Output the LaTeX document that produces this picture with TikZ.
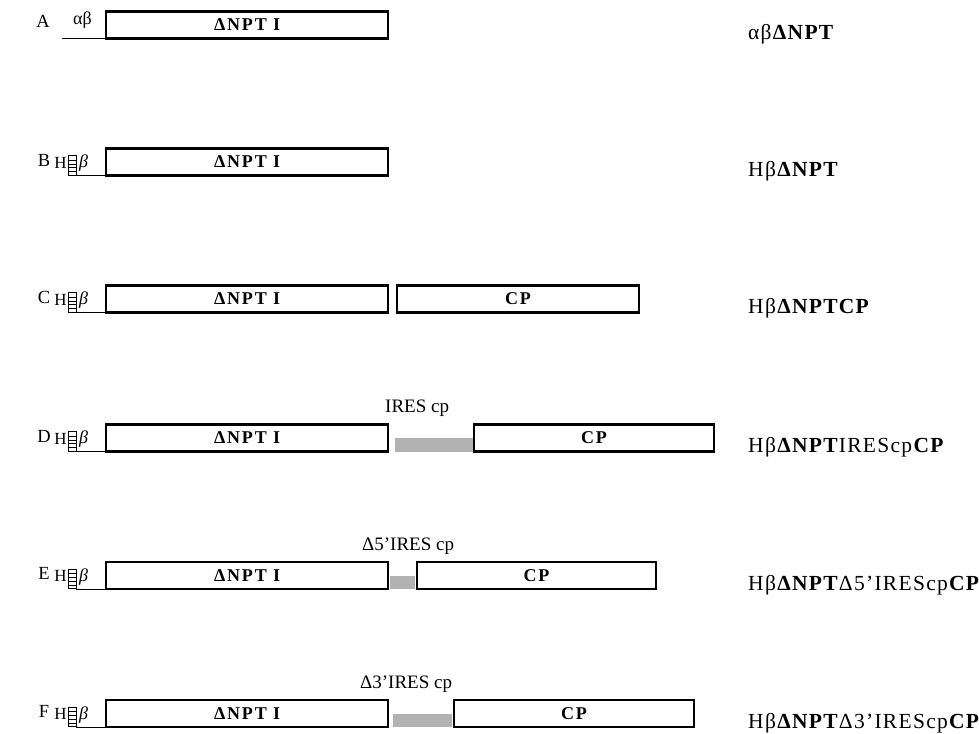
\documentclass[tikz,border=0pt]{standalone}
\usepackage{fontspec}
\setmainfont{Liberation Serif}
\newfontfamily\trackfont[LetterSpace=6]{Liberation Serif}
\newfontfamily\boxfont[LetterSpace=10]{Liberation Serif}

% H promoter block (enhancer box, H, beta) in front of a construct;
% #1 = row suffix, #2 = vertical centre of the row
\newcommand\hpromoter[2]{%
  \node[lettertext, anchor=base] (h#1) at (60.5,#2+6) {H};
  \node[enh, anchor=south west] (enh#1) at (67.5,#2+13.5) {};
  \foreach \k in {1,2,3,4}
    \draw[line width=0.5pt] ([yshift=\k*3.9pt]enh#1.south west) -- ([yshift=\k*3.9pt]enh#1.south east);
  \node[lettertext, font=\fontsize{18}{18}\selectfont\itshape, anchor=base west] (be#1) at (79,#2+5.5) {β};
  \draw[lead] (enh#1.south east) -- (enh#1.south east -| n#1.west);
}

\begin{document}
\begin{tikzpicture}[x=1pt,y=-1pt,
  gene/.style={draw, line width=2.2pt, inner sep=0pt, minimum height=27pt, anchor=west,
    font=\boxfont\fontsize{18}{18}\selectfont\bfseries},
  rowletter/.style={anchor=base, inner sep=0pt, font=\fontsize{18.5}{18.5}\selectfont},
  lettertext/.style={inner sep=0pt, font=\fontsize{17}{17}\selectfont},
  construct/.style={anchor=base west, inner sep=0pt, font=\trackfont\fontsize{21.5}{21.5}\selectfont},
  iresname/.style={anchor=base west, inner sep=0pt, font=\fontsize{19}{19}\selectfont},
  ires/.style={fill=black!30},
  enh/.style={draw, line width=0.7pt, inner sep=0pt, minimum width=8pt, minimum height=19.5pt},
  lead/.style={line width=1pt}
]
\useasboundingbox (0,0) rectangle (979,733);

% ---------- A ----------
\node[rowletter] (lA) at (43,28) {A};
\node[gene, minimum width=282pt] (nA) at (105,25) {ΔNPT I};
\node[lettertext, anchor=base west, font=\fontsize{18}{18}\selectfont] (abA) at (73,25) {αβ};
\coordinate (tA) at (62,38.5);
\draw[lead] (tA) -- (tA -| nA.west);
\node[construct] (rA) at (748,39.5) {αβ\textbf{ΔNPT}};

% ---------- B ----------
\node[rowletter] (lB) at (44,166) {B};
\node[gene, minimum width=282pt] (nB) at (105,162) {ΔNPT I};
\hpromoter{B}{162}
\node[construct] (rB) at (748,176.5) {Hβ\textbf{ΔNPT}};

% ---------- C ----------
\node[rowletter] (lC) at (44,303) {C};
\node[gene, minimum width=282pt] (nC) at (105,299) {ΔNPT I};
\node[gene, minimum width=242pt] (cC) at (396,299) {CP};
\hpromoter{C}{299}
\node[construct] (rC) at (748,313.5) {Hβ\textbf{ΔNPTCP}};

% ---------- D ----------
\node[rowletter] (lD) at (44,442) {D};
\node[gene, minimum width=282pt] (nD) at (105,438) {ΔNPT I};
\fill[ires] (395,438) rectangle (473,451.5);
\node[gene, minimum width=240pt] (cD) at (473,438) {CP};
\hpromoter{D}{438}
\node[iresname] (iD) at (385,412) {IRES cp};
\node[construct] (rD) at (748,452.5) {Hβ\textbf{ΔNPT}IREScp\textbf{CP}};

% ---------- E ----------
\node[rowletter] (lE) at (44,579.5) {E};
\node[gene, minimum width=282pt] (nE) at (105,575.5) {ΔNPT I};
\fill[ires] (390,575.5) rectangle (415,589);
\node[gene, minimum width=239pt] (cE) at (416,575.5) {CP};
\hpromoter{E}{575.5}
\node[iresname] (iE) at (362,550) {Δ5’IRES cp};
\node[construct] (rE) at (748,590) {Hβ\textbf{ΔNPT}Δ5’IREScp\textbf{CP}};

% ---------- F ----------
\node[rowletter] (lF) at (44,717.5) {F};
\node[gene, minimum width=282pt] (nF) at (105,713.5) {ΔNPT I};
\fill[ires] (393,713.5) rectangle (452,727);
\node[gene, minimum width=240pt] (cF) at (453,713.5) {CP};
\hpromoter{F}{713.5}
\node[iresname] (iF) at (360,688) {Δ3’IRES cp};
\node[construct] (rF) at (748,728) {Hβ\textbf{ΔNPT}Δ3’IREScp\textbf{CP}};
\end{tikzpicture}
\end{document}
